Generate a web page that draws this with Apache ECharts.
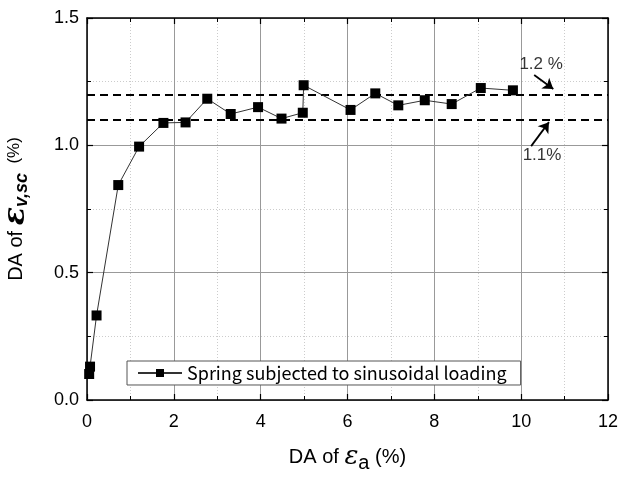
<!DOCTYPE html>
<html><head><meta charset="utf-8">
<script src="https://cdn.jsdelivr.net/npm/echarts@6/dist/echarts.min.js"></script>
<style>html,body{margin:0;padding:0;background:#fff}#c{width:618px;height:481px}</style>
</head><body><div id="c"></div>
<script>
const xValues = [0.05, 0.07, 0.22, 0.72, 1.20, 1.76, 2.27, 2.77, 3.31, 3.94, 4.48, 4.97, 4.99, 6.07, 6.64, 7.17, 7.78, 8.40, 9.07, 9.81];
const yValues = [0.102, 0.131, 0.332, 0.844, 0.995, 1.088, 1.090, 1.183, 1.123, 1.150, 1.105, 1.128, 1.236, 1.139, 1.204, 1.157, 1.177, 1.162, 1.225, 1.216];
const seriesName = 'Spring subjected to sinusoidal loading';
const refLevels = [1.2, 1.1];
const refLabels = ['1.2 %', '1.1%'];
const labelPos = [[10.46, 1.318], [10.48, 0.962]];
const arrows = [[[10.30, 1.276], [10.74, 1.221]], [[10.23, 0.997], [10.64, 1.091]]];

const FONT = 'Liberation Sans';
const LFONT = 'Noto Sans CJK JP';
const chart = echarts.init(document.getElementById('c'), null, {renderer: 'canvas'});
const baseAxis = {
  axisLine: {show: true, onZero: false, lineStyle: {color: '#000', width: 1.5}},
  axisTick: {show: true, inside: true, length: 6, lineStyle: {color: '#000', width: 1.2}},
  minorTick: {show: true, splitNumber: 2, length: 4, lineStyle: {color: '#000', width: 1}},
};
const axisLabel = {color: '#000', fontSize: 18, fontFamily: FONT};
const data = xValues.map((x, i) => [x, yValues[i]]);
const mlData = refLevels.map(v => ({yAxis: v, symbol: 'none'}));
arrows.forEach(a => mlData.push([
  {coord: a[0], symbol: 'none', lineStyle: {type: 'solid', width: 1.8, color: '#000'}},
  {coord: a[1], symbol: 'arrow', symbolSize: 10, lineStyle: {type: 'solid', width: 1.8, color: '#000'}}
]));
chart.setOption({
  animation: false,
  backgroundColor: '#fff',
  grid: {left: 87, right: 10, top: 18, bottom: 81, containLabel: false, outerBoundsMode: 'none'},
  legend: {
    show: true, left: 127, top: 361, orient: 'horizontal',
    data: [seriesName],
    itemWidth: 44, itemHeight: 10, itemGap: 10,
    padding: [3, 14, 3, 10],
    borderColor: '#555', borderWidth: 1, backgroundColor: '#fff',
    textStyle: {fontSize: 18, fontFamily: LFONT, color: '#000'}
  },
  xAxis: [
    Object.assign({}, baseAxis, {
      type: 'value', min: 0, max: 12, interval: 2, position: 'bottom',
      axisLabel: Object.assign({margin: 13}, axisLabel),
      splitLine: {show: true, lineStyle: {color: '#999', width: 1}},
      minorSplitLine: {show: true, lineStyle: {color: '#ccc', width: 1, type: [1, 2]}},
      name: '{t|DA of }{e|ε}{s|a}{t| (%)}', nameLocation: 'middle', nameGap: 41,
      nameTextStyle: {rich: {
        t: {fontSize: 20, fontFamily: FONT, color: '#000'},
        e: {fontSize: 26, fontFamily: 'DejaVu Serif', fontStyle: 'italic', color: '#000'},
        s: {fontSize: 20, fontFamily: FONT, color: '#000', padding: [12, 0, 0, 0]}
      }}
    }),
    Object.assign({}, baseAxis, {
      type: 'value', min: 0, max: 12, interval: 2, position: 'top',
      axisLabel: {show: false}, splitLine: {show: false}
    })
  ],
  yAxis: [
    Object.assign({}, baseAxis, {
      type: 'value', min: 0, max: 1.5, interval: 0.5, position: 'left',
      axisLabel: Object.assign({margin: 8, formatter: v => v.toFixed(1)}, axisLabel),
      splitLine: {show: true, lineStyle: {color: '#999', width: 1}},
      minorSplitLine: {show: true, lineStyle: {color: '#ccc', width: 1, type: [1, 2]}},
      name: '{t|DA of }{e|ε}{s|v,sc}{p|  (%)}', nameLocation: 'middle', nameGap: 56, nameRotate: 90,
      nameTextStyle: {rich: {
        t: {fontSize: 20, fontFamily: FONT, color: '#000'},
        e: {fontSize: 30, fontFamily: 'DejaVu Serif', fontStyle: 'italic', fontWeight: 'bold', color: '#000'},
        s: {fontSize: 18, fontFamily: FONT, fontStyle: 'italic', fontWeight: 'bold', color: '#000', padding: [12, 0, 0, 0]},
        p: {fontSize: 17, fontFamily: FONT, color: '#000', padding: [0, 0, 4, 0]}
      }}
    }),
    Object.assign({}, baseAxis, {
      type: 'value', min: 0, max: 1.5, interval: 0.5, position: 'right',
      axisLabel: {show: false}, splitLine: {show: false}
    })
  ],
  series: [
    {
      name: seriesName, type: 'line', data: data,
      symbol: 'rect', symbolSize: 10,
      itemStyle: {color: '#000'},
      lineStyle: {color: '#333', width: 1},
      z: 5,
      markLine: {
        silent: true, symbol: 'none', animation: false,
        label: {show: false},
        lineStyle: {color: '#000', width: 2, type: [8, 5]},
        emphasis: {disabled: true},
        data: mlData
      }
    },
    {
      name: 'labels', type: 'scatter', symbolSize: 0, silent: true,
      data: labelPos.map((p, i) => ({value: p, label: {formatter: refLabels[i]}})),
      label: {show: true, position: 'inside', fontSize: 17, fontFamily: FONT, color: '#000'}
    }
  ]
});
</script></body></html>
